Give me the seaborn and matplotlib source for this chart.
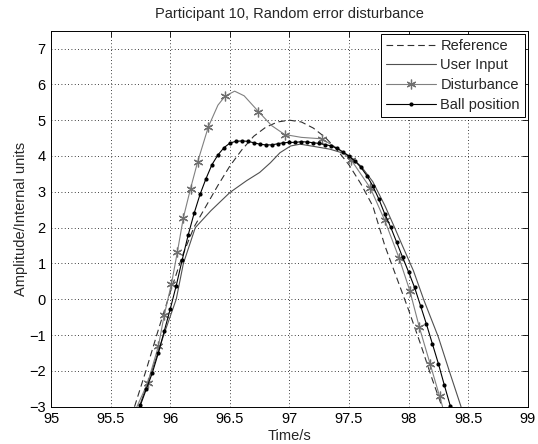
from typing import List
import seaborn as sns
import matplotlib
matplotlib.use("Agg")
import matplotlib.pyplot as plt

# values

ref_time: List[float] = [95.70, 95.80, 95.90, 96.00, 96.10, 96.20, 96.30, 96.40, 96.50,
                         96.60, 96.70, 96.80, 96.90, 97.00, 97.10, 97.20, 97.30, 97.40,
                         97.50, 97.60, 97.70, 97.80, 97.90, 98.00, 98.10, 98.20, 98.28]
ref_value: List[float] = [-3.0, -1.95, -0.85, 0.20, 1.20, 2.02, 2.60, 3.18, 3.72,
                          4.17, 4.55, 4.80, 4.95, 5.00, 4.95, 4.78, 4.52, 4.17,
                          3.75, 3.22, 2.60, 1.50, 0.60, -0.30, -1.25, -2.25, -3.0]

user_time: List[float] = [95.74, 95.85, 95.95, 96.05, 96.11, 96.21, 96.34, 96.50, 96.64,
                          96.75, 96.84, 96.92, 97.01, 97.09, 97.20, 97.34, 97.48, 97.60,
                          97.70, 97.80, 97.88, 97.95, 98.04, 98.13, 98.25, 98.34, 98.44]
user_value: List[float] = [-3.0, -1.95, -0.95, 0.0, 1.0, 2.0, 2.47, 2.98, 3.31,
                           3.54, 3.81, 4.09, 4.28, 4.33, 4.27, 4.19, 4.05, 3.72,
                           3.28, 2.62, 2.02, 1.48, 0.80, -0.04, -1.06, -1.99, -3.0]

dist_time: List[float] = [95.72, 95.81, 95.90, 95.95, 96.01, 96.06, 96.11, 96.17, 96.23,
                          96.32, 96.40, 96.46, 96.54, 96.62, 96.74, 96.85, 96.96, 97.10,
                          97.27, 97.40, 97.52, 97.68, 97.80, 97.92, 98.01, 98.09, 98.18,
                          98.26, 98.285]
dist_value: List[float] = [-3.0, -2.34, -1.31, -0.43, 0.43, 1.33, 2.28, 3.09, 3.84,
                           4.82, 5.42, 5.67, 5.81, 5.68, 5.24, 4.85, 4.60, 4.52,
                           4.48, 4.22, 3.88, 3.10, 2.20, 1.15, 0.24, -0.78, -1.80,
                           -2.71, -3.0]
dist_marks: List[int] = [1, 2, 3, 4, 5, 6, 7, 8, 9, 11, 14, 16, 18, 20, 21, 22, 23,
                         24, 25, 26, 27]

ball_time: List[float] = [95.75, 95.80, 95.85, 95.90, 95.95, 96.00, 96.05, 96.10, 96.15,
                          96.20, 96.25, 96.30, 96.35, 96.40, 96.45, 96.50, 96.55, 96.60,
                          96.65, 96.70, 96.75, 96.80, 96.85, 96.90, 96.95, 97.00, 97.05,
                          97.10, 97.15, 97.20, 97.25, 97.30, 97.35, 97.40, 97.45, 97.50,
                          97.55, 97.60, 97.65, 97.70, 97.75, 97.80, 97.85, 97.90, 97.95,
                          98.00, 98.05, 98.10, 98.15, 98.20, 98.25, 98.30, 98.35]
ball_value: List[float] = [-2.95, -2.50, -2.05, -1.50, -0.88, -0.27, 0.38, 1.10, 1.79,
                           2.40, 2.93, 3.37, 3.76, 4.03, 4.23, 4.36, 4.41, 4.42,
                           4.41, 4.37, 4.33, 4.31, 4.31, 4.34, 4.37, 4.38, 4.38,
                           4.40, 4.39, 4.37, 4.35, 4.32, 4.28, 4.22, 4.11, 3.99,
                           3.86, 3.68, 3.45, 3.16, 2.80, 2.38, 2.01, 1.59, 1.17,
                           0.76, 0.33, -0.18, -0.70, -1.25, -1.80, -2.40, -2.98]

x_ticks: List[float] = [95, 95.5, 96, 96.5, 97, 97.5, 98, 98.5, 99]
x_labels: List[str] = ["95", "95.5", "96", "96.5", "97", "97.5", "98", "98.5", "99"]
y_ticks: List[int] = list(range(-3, 8))


def main():
    sns.set_theme(style="white")
    plt.rcParams["font.family"] = ["Liberation Sans", "DejaVu Sans"]

    fig = plt.figure(figsize=(5.38, 4.44), dpi=100)
    ax = fig.add_axes([0.095, 0.084, 0.886, 0.847])

    sns.lineplot(x=ref_time, y=ref_value, sort=False, estimator=None, ax=ax,
                 color="#303030", linewidth=0.8, linestyle=(0, (6, 3.5)),
                 label="Reference")
    sns.lineplot(x=user_time, y=user_value, sort=False, estimator=None, ax=ax,
                 color="#505050", linewidth=0.8, label="User Input")
    # MATLAB-style asterisk marker
    sns.lineplot(x=dist_time, y=dist_value, sort=False, estimator=None, ax=ax,
                 color="#808080", linewidth=0.8, marker=(6, 2, 0), markersize=7,
                 markeredgecolor="#707070", markeredgewidth=0.9,
                 markevery=dist_marks, label="Disturbance")
    sns.lineplot(x=ball_time, y=ball_value, sort=False, estimator=None, ax=ax,
                 color="black", linewidth=0.8, marker=".", markersize=6,
                 markeredgewidth=0, label="Ball position")

    ax.set_xlim(95, 99)
    ax.set_ylim(-3, 7.5)
    ax.set_xticks(x_ticks)
    ax.set_xticklabels(x_labels)
    ax.set_yticks(y_ticks)
    ax.grid(True, color="black", linestyle=(0, (1, 3)), linewidth=0.6)
    ax.tick_params(direction="in", length=4, width=0.6, top=True, right=True,
                   labelsize=10.5, colors="black", pad=4)
    for spine in ax.spines.values():
        spine.set_color("black")
        spine.set_linewidth(0.7)

    ax.set_title("Participant 10, Random error disturbance", fontsize=10.5, pad=9)
    ax.set_xlabel("Time/s", fontsize=10.5, labelpad=2)
    ax.set_ylabel("Amplitude/Internal units", fontsize=10.5, labelpad=1)

    leg = ax.legend(loc="upper right", fontsize=10.5, frameon=True, fancybox=False,
                    framealpha=1, edgecolor="black", handlelength=3.4,
                    handletextpad=0.3, labelspacing=0.4, borderaxespad=0.2,
                    borderpad=0.35)
    leg.get_frame().set_linewidth(0.7)

    fig.savefig("out.png", dpi=100)


if __name__ == "__main__":
    main()
